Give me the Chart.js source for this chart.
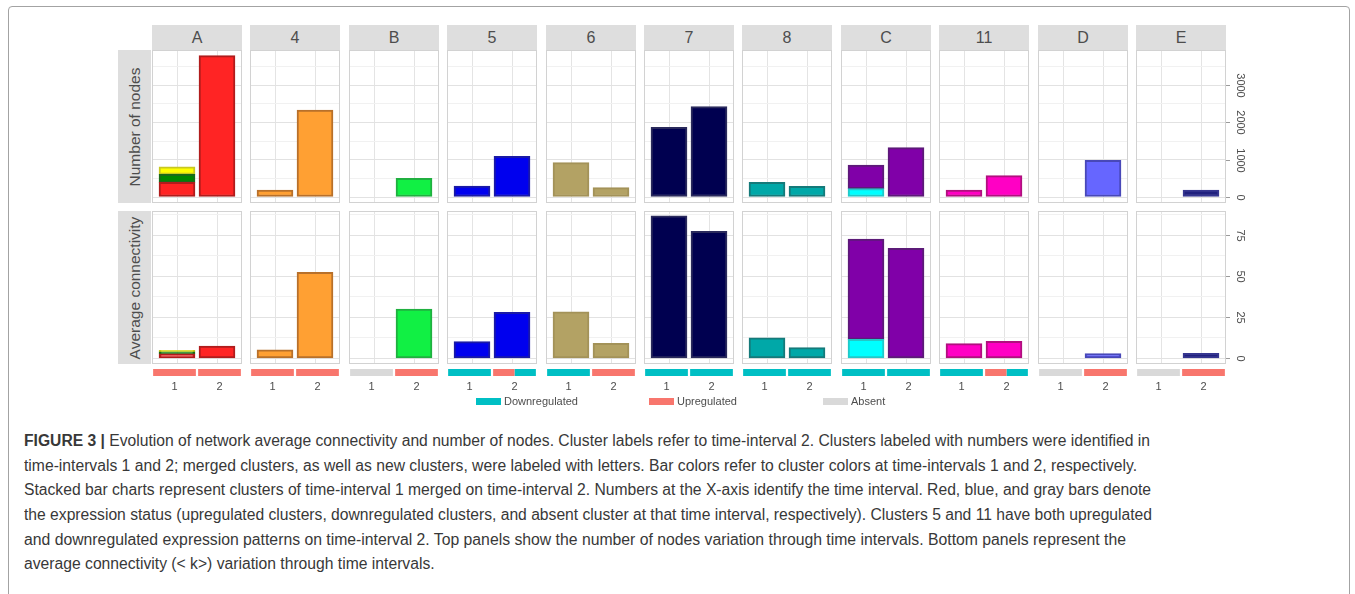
<!DOCTYPE html>
<html><head><meta charset="utf-8">
<script src="https://cdn.jsdelivr.net/npm/chart.js@4.4.1/dist/chart.umd.min.js"></script>
<style>
html,body{margin:0;padding:0;background:#fff;}
body{width:1355px;height:594px;overflow:hidden;position:relative;font-family:"Liberation Sans",Arial,Helvetica,sans-serif;}
#frame{position:absolute;left:8px;top:6px;width:1342px;height:640px;border:1px solid #a3a3a3;border-radius:4px;box-sizing:border-box;}
.colstrip{position:absolute;top:25px;height:25px;width:90px;background:#dedede;color:#4d4d4d;font-size:16px;line-height:26px;text-align:center;}
.rowstrip{position:absolute;left:118px;width:33px;height:153px;background:#dedede;color:#4d4d4d;font-size:15.5px;}
.rowstrip span{position:absolute;left:50%;top:50%;transform:translate(-50%,-50%) rotate(-90deg);white-space:nowrap;}
.panel{position:absolute;width:90px;height:153px;border:1px solid #d2d2d2;box-sizing:border-box;background:#fff;}
canvas{display:block;}
.expr{position:absolute;top:369px;width:90px;height:28px;}
.axis{position:absolute;left:1226px;width:30px;height:151px;}
.leg{position:absolute;top:394px;height:14px;font-size:11px;color:#4d4d4d;line-height:14px;white-space:nowrap;}
.leg i{position:absolute;left:0;top:3.5px;width:25px;height:7px;}
.leg span{position:absolute;left:28px;top:0;}
.cap{position:absolute;left:24px;font-size:16px;line-height:20px;color:#383838;white-space:nowrap;transform-origin:0 50%;}
</style>
</head>
<body>
<div id="frame"></div>
<script>
// ---------------- DATA ----------------
const clusters = ['A','4','B','5','6','7','8','C','11','D','E'];
const intervals = ['1','2'];
// Number of nodes (time-interval 1 stacked layers, time-interval 2)
const nodesT1 = [394, 188, null, 295, 920, 1868, 394, 223, 188, null, null];
const nodesT1Layer2 = [214, null, null, null, null, null, null, 635, null, null, null];
const nodesT1Layer3 = [204, null, null, null, null, null, null, null, null, null, null];
const nodesT2 = [3790, 2332, 501, 1091, 250, 2421, 286, 1322, 572, 983, 188];
// Average connectivity
const connT1 = [2.7, 5.2, null, 10.1, 28.2, 86.6, 12.5, 11.5, 8.9, null, null];
const connT1Layer2 = [1.2, null, null, null, null, null, null, 61.1, null, null, null];
const connT1Layer3 = [1.0, null, null, null, null, null, null, null, null, null, null];
const connT2 = [7.5, 52.3, 30.0, 28.0, 9.1, 77.2, 6.5, 66.9, 10.3, 2.8, 3.0];
// Expression status per interval
const exprT1 = ['Up','Up','Absent','Down','Down','Down','Down','Down','Down','Absent','Absent'];
const exprT2 = ['Up','Up','Up','Both','Up','Down','Down','Down','Both','Up','Up'];
// Tick labels
const nodesTicks = [0, 1000, 2000, 3000];
const connTicks = [0, 25, 50, 75];
const rowLabels = ['Number of nodes', 'Average connectivity'];
const legendLabels = ['Downregulated', 'Upregulated', 'Absent'];
const captionLines = [
  '<b>FIGURE 3 |</b> Evolution of network average connectivity and number of nodes. Cluster labels refer to time-interval 2. Clusters labeled with numbers were identified in',
  'time-intervals 1 and 2; merged clusters, as well as new clusters, were labeled with letters. Bar colors refer to cluster colors at time-intervals 1 and 2, respectively.',
  'Stacked bar charts represent clusters of time-interval 1 merged on time-interval 2. Numbers at the X-axis identify the time interval. Red, blue, and gray bars denote',
  'the expression status (upregulated clusters, downregulated clusters, and absent cluster at that time interval, respectively). Clusters 5 and 11 have both upregulated',
  'and downregulated expression patterns on time-interval 2. Top panels show the number of nodes variation through time intervals. Bottom panels represent the',
  'average connectivity (&lt; k&gt;) variation through time intervals.'
];

// ---------------- STYLE ----------------
const fillT1  = ['#ff2424','#ffa033',null,'#0000ee','#b3a264','#000050','#00a8a8','#00ffff','#ff00c4',null,null];
const lineT1  = ['#b01c1c','#b8702a',null,'#1a1aa6','#a39258','#2a2a5c','#157a7a','#22c8c8','#b0107e',null,null];
const fillL2  = ['#008800',null,null,null,null,null,null,'#8000a8',null,null,null];
const lineL2  = ['#1a6a1a',null,null,null,null,null,null,'#5c1a78',null,null,null];
const fillL3  = ['#ffff00',null,null,null,null,null,null,null,null,null,null];
const lineL3  = ['#c8c820',null,null,null,null,null,null,null,null,null,null];
const fillT2  = ['#ff2424','#ffa033','#11f044','#0000ee','#b3a264','#000050','#00a8a8','#8000a8','#ff00c4','#6666ff','#20207e'];
const lineT2  = ['#b01c1c','#b8702a','#20b040','#1a1aa6','#a39258','#2a2a5c','#157a7a','#5c1a78','#b0107e','#4848b8','#363690'];
const exprColors = {Up:'#f8766d', Down:'#00bfc4', Absent:'#d9d9d9'};

const panelLeft = i => Math.round(152 + i * 98.4);
const rowTop = [50, 211];
const rowRange = [{min:-134, max:3914, step:500, major:1000}, {min:-2.86, max:89.0, step:12.5, major:25}];
const capY = [441, 466, 490, 515, 540, 564];
const capRight = [1150, 1137, 1151, 1152, 1126, null];

Chart.defaults.font.family = '"Liberation Sans", Arial, sans-serif';
Chart.defaults.animation = false;

function el(tag, cls, style, parent) {
  const e = document.createElement(tag);
  if (cls) e.className = cls;
  if (style) Object.assign(e.style, style);
  (parent || document.body).appendChild(e);
  return e;
}
function canvasIn(parent, w, h) {
  const c = document.createElement('canvas');
  c.width = w; c.height = h;
  c.style.width = w + 'px'; c.style.height = h + 'px';
  parent.appendChild(c);
  return c;
}

const rows = [
  {t1: nodesT1, l2: nodesT1Layer2, l3: nodesT1Layer3, t2: nodesT2, ticks: nodesTicks},
  {t1: connT1, l2: connT1Layer2, l3: connT1Layer3, t2: connT2, ticks: connTicks}
];

// column strips
clusters.forEach((c, i) => {
  const s = el('div', 'colstrip', {left: panelLeft(i) + 'px'});
  s.textContent = c;
});
// row strips
rowLabels.forEach((lab, r) => {
  const s = el('div', 'rowstrip', {top: rowTop[r] + 'px'});
  const sp = el('span', null, null, s);
  sp.textContent = lab;
});

function gridTicks(rg) {
  const out = [];
  for (let v = 0; v <= rg.max; v += rg.step) out.push({value: v, isMajor: Math.abs(v / rg.major - Math.round(v / rg.major)) < 1e-9});
  return out;
}

// panels
rows.forEach((row, r) => {
  const rg = rowRange[r];
  clusters.forEach((c, i) => {
    const p = el('div', 'panel', {left: panelLeft(i) + 'px', top: rowTop[r] + 'px'});
    const cv = canvasIn(p, 88, 151);
    const datasets = [];
    const d0 = [], bg0 = [], bd0 = [];
    if (row.t1[i] != null) { d0.push({x: 1, y: row.t1[i]}); bg0.push(fillT1[i]); bd0.push(lineT1[i]); }
    if (row.t2[i] != null) { d0.push({x: 2, y: row.t2[i]}); bg0.push(fillT2[i]); bd0.push(lineT2[i]); }
    datasets.push({data: d0, backgroundColor: bg0, borderColor: bd0});
    if (row.l2[i] != null) datasets.push({data: [{x: 1, y: row.l2[i]}], backgroundColor: fillL2[i], borderColor: lineL2[i]});
    if (row.l3[i] != null) datasets.push({data: [{x: 1, y: row.l3[i]}], backgroundColor: fillL3[i], borderColor: lineL3[i]});
    datasets.forEach(d => { d.barThickness = 36; d.borderWidth = 2; d.borderSkipped = false; d.stack = 's'; });
    new Chart(cv, {
      type: 'bar',
      data: {datasets},
      options: {
        responsive: false, maintainAspectRatio: false, animation: false,
        layout: {padding: 0},
        plugins: {legend: {display: false}, tooltip: {enabled: false}},
        scales: {
          x: {type: 'linear', min: 0.4, max: 2.6, stacked: true, offset: false,
              afterBuildTicks: s => { s.ticks = intervals.map(v => ({value: Number(v)})); },
              ticks: {display: false}, grid: {color: '#e4e4e4', drawTicks: false, offset: false}, border: {display: false}},
          y: {type: 'linear', min: rg.min, max: rg.max, stacked: true,
              afterBuildTicks: s => { s.ticks = gridTicks(rg); },
              ticks: {display: false},
              grid: {drawTicks: false, color: ctx => (ctx.tick && ctx.tick.isMajor) ? '#e2e2e2' : '#f1f1f1'},
              border: {display: false}}
        }
      }
    });
  });
  // right axis with rotated labels
  const ax = el('div', 'axis', {top: (rowTop[r] + 1) + 'px'});
  const acv = canvasIn(ax, 30, 151);
  new Chart(acv, {
    type: 'bar',
    data: {datasets: []},
    options: {
      responsive: false, maintainAspectRatio: false, animation: false,
      layout: {padding: 0},
      plugins: {legend: {display: false}, tooltip: {enabled: false}, rotAxis: {ticks: row.ticks}},
      scales: {
        x: {display: false},
        y: {type: 'linear', min: rg.min, max: rg.max, ticks: {display: false}, grid: {display: false}, border: {display: false}}
      }
    },
    plugins: [{
      id: 'rotAxis',
      afterDraw(chart, args, opts) {
        const ctx = chart.ctx, sc = chart.scales.y;
        ctx.save();
        ctx.strokeStyle = '#9a9a9a'; ctx.lineWidth = 1;
        ctx.fillStyle = '#4d4d4d';
        ctx.font = '11px "Liberation Sans", Arial, sans-serif';
        opts.ticks.forEach(v => {
          const y = Math.round(sc.getPixelForValue(v)) + 0.5;
          ctx.beginPath(); ctx.moveTo(0, y); ctx.lineTo(4, y); ctx.stroke();
          ctx.save(); ctx.translate(14, y); ctx.rotate(Math.PI / 2);
          ctx.textAlign = 'center'; ctx.textBaseline = 'middle';
          ctx.fillText(String(v), 0, 0); ctx.restore();
        });
        ctx.restore();
      }
    }]
  });
});

// expression status strips with interval tick labels
clusters.forEach((c, i) => {
  const box = el('div', 'expr', {left: panelLeft(i) + 'px'});
  const cv = canvasIn(box, 90, 28);
  const pick = (status, key) => (status === key || (status === 'Both' && (key === 'Up' || key === 'Down'))) ? 1 : null;
  const ds = ['Up', 'Down', 'Absent'].map(k => ({
    data: [pick(exprT1[i], k), pick(exprT2[i], k)],
    backgroundColor: exprColors[k], borderWidth: 0,
    barPercentage: 1, categoryPercentage: 0.95, skipNull: true
  }));
  new Chart(cv, {
    type: 'bar',
    data: {labels: intervals, datasets: ds},
    options: {
      responsive: false, maintainAspectRatio: false, animation: false,
      layout: {padding: 0},
      plugins: {legend: {display: false}, tooltip: {enabled: false}},
      scales: {
        x: {type: 'category', offset: true, grid: {display: false, drawTicks: false}, border: {display: false},
            ticks: {color: '#4d4d4d', font: {size: 11}, padding: 4, maxRotation: 0},
            afterFit: s => { s.height = 21; }},
        y: {display: false, min: 0, max: 1}
      }
    }
  });
});

// legend
const legX = [476, 649, 823];
const legKeys = ['Down', 'Up', 'Absent'];
legendLabels.forEach((lab, k) => {
  const g = el('div', 'leg', {left: legX[k] + 'px', width: '120px'});
  el('i', null, {background: exprColors[legKeys[k]]}, g);
  const t = el('span', null, null, g);
  t.textContent = lab;
});

// caption
const capDivs = captionLines.map((html, k) => {
  const d = el('div', 'cap', {top: (capY[k] - 10) + 'px'});
  d.innerHTML = html;
  return d;
});
const scales = capDivs.map((d, k) => capRight[k] ? (capRight[k] - 24) / d.getBoundingClientRect().width : null);
const known = scales.filter(s => s);
const meanScale = known.reduce((a, b) => a + b, 0) / known.length;
capDivs.forEach((d, k) => { d.style.transform = 'scaleX(' + (scales[k] || meanScale) + ')'; });
</script>
</body></html>
